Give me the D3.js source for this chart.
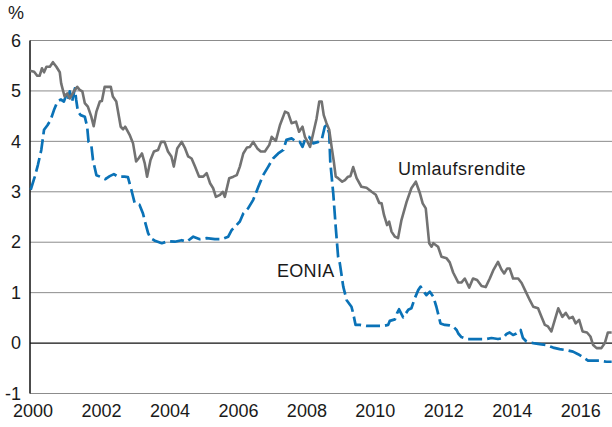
<!DOCTYPE html>
<html><head><meta charset="utf-8">
<script src="https://cdn.jsdelivr.net/npm/d3@7"></script>
<style>
html,body{margin:0;padding:0;background:#fff;}
text{font-family:"Liberation Sans",Arial,Helvetica,sans-serif;fill:#1a1a1a;}
</style></head>
<body><svg id="c" width="612" height="427"></svg>
<script>
const yTicks = [-1, 0, 1, 2, 3, 4, 5, 6];
const xTickYears = [2000, 2002, 2004, 2006, 2008, 2010, 2012, 2014, 2016];
const unitLabel = "%";
const seriesNames = ["Umlaufsrendite", "EONIA"];

const umlYears = [2000.00,2000.12,2000.21,2000.28,2000.35,2000.41,2000.48,2000.58,2000.67,2000.77,2000.87,2000.91,2001.01,2001.09,2001.16,2001.31,2001.38,2001.45,2001.53,2001.60,2001.69,2001.79,2001.86,2001.94,2002.04,2002.10,2002.18,2002.36,2002.42,2002.52,2002.65,2002.72,2002.78,2002.91,2003.01,2003.10,2003.17,2003.27,2003.35,2003.42,2003.52,2003.62,2003.74,2003.83,2003.93,2004.03,2004.13,2004.20,2004.30,2004.43,2004.53,2004.62,2004.72,2004.82,2004.94,2005.06,2005.16,2005.26,2005.35,2005.43,2005.55,2005.63,2005.69,2005.82,2005.94,2006.04,2006.13,2006.23,2006.34,2006.42,2006.52,2006.64,2006.74,2006.86,2006.99,2007.06,2007.18,2007.30,2007.45,2007.54,2007.64,2007.77,2007.86,2007.96,2008.03,2008.13,2008.18,2008.27,2008.37,2008.45,2008.52,2008.58,2008.66,2008.74,2008.81,2008.88,2008.93,2009.00,2009.12,2009.20,2009.29,2009.36,2009.44,2009.54,2009.68,2009.83,2009.98,2010.10,2010.20,2010.27,2010.34,2010.43,2010.49,2010.56,2010.66,2010.75,2010.85,2011.00,2011.14,2011.27,2011.39,2011.47,2011.56,2011.66,2011.73,2011.78,2011.92,2012.02,2012.17,2012.26,2012.36,2012.51,2012.60,2012.70,2012.83,2012.94,2013.06,2013.19,2013.31,2013.43,2013.53,2013.67,2013.77,2013.85,2013.94,2014.01,2014.11,2014.26,2014.36,2014.48,2014.60,2014.70,2014.84,2014.94,2015.04,2015.13,2015.23,2015.33,2015.43,2015.55,2015.65,2015.75,2015.85,2015.94,2016.04,2016.14,2016.27,2016.37,2016.45,2016.55,2016.69,2016.79,2016.88,2016.99];
const umlValues = [5.40,5.38,5.30,5.30,5.45,5.37,5.48,5.48,5.57,5.48,5.37,5.15,4.89,4.95,4.85,5.02,5.08,5.02,4.99,4.76,4.69,4.49,4.30,4.59,4.79,4.80,5.08,5.08,4.89,4.79,4.29,4.24,4.29,4.13,3.96,3.60,3.66,3.76,3.57,3.30,3.63,3.80,3.83,3.99,3.99,3.80,3.70,3.50,3.86,3.99,3.86,3.70,3.66,3.50,3.30,3.30,3.37,3.17,3.07,2.90,2.94,3.00,2.90,3.27,3.30,3.33,3.50,3.76,3.88,3.89,3.99,3.86,3.80,3.80,3.93,4.09,4.01,4.32,4.59,4.56,4.36,4.39,4.19,4.29,4.09,3.96,3.89,4.15,4.45,4.79,4.79,4.52,4.36,4.23,3.89,3.57,3.30,3.27,3.20,3.23,3.30,3.31,3.49,3.27,3.10,3.08,3.00,2.94,2.78,2.77,2.54,2.34,2.41,2.21,2.11,2.08,2.44,2.80,3.07,3.20,2.97,2.77,2.67,1.98,1.91,1.98,1.91,1.71,1.68,1.60,1.40,1.20,1.20,1.28,1.10,1.28,1.25,1.13,1.11,1.28,1.44,1.61,1.46,1.38,1.48,1.48,1.28,1.28,1.19,1.02,0.85,0.72,0.69,0.52,0.36,0.33,0.23,0.46,0.69,0.52,0.60,0.49,0.52,0.39,0.46,0.23,0.21,0.13,-0.04,-0.10,-0.10,0.00,0.21,0.21];

const eoniaYears = [2000.02,2000.14,2000.23,2000.33,2000.41,2000.51,2000.60,2000.70,2000.80,2000.90,2000.99,2001.06,2001.11,2001.16,2001.23,2001.31,2001.35,2001.40,2001.48,2001.60,2001.67,2001.71,2001.79,2001.84,2001.94,2002.08,2002.20,2002.33,2002.45,2002.57,2002.76,2002.86,2002.96,2003.06,2003.20,2003.30,2003.37,2003.45,2003.52,2003.65,2003.85,2004.04,2004.23,2004.43,2004.58,2004.77,2004.96,2005.16,2005.40,2005.60,2005.79,2005.89,2005.99,2006.13,2006.23,2006.37,2006.52,2006.67,2006.81,2006.96,2007.10,2007.25,2007.40,2007.49,2007.64,2007.79,2007.88,2007.96,2008.03,2008.15,2008.27,2008.42,2008.52,2008.61,2008.66,2008.74,2008.77,2008.86,2008.93,2009.00,2009.05,2009.15,2009.25,2009.39,2009.44,2009.51,2009.64,2009.83,2010.07,2010.32,2010.46,2010.51,2010.66,2010.72,2010.78,2010.90,2011.05,2011.14,2011.24,2011.34,2011.41,2011.48,2011.58,2011.68,2011.78,2011.87,2011.99,2012.12,2012.26,2012.36,2012.46,2012.51,2012.60,2012.75,2012.94,2013.14,2013.33,2013.48,2013.67,2013.82,2013.92,2014.01,2014.11,2014.21,2014.33,2014.40,2014.50,2014.70,2014.89,2015.09,2015.28,2015.47,2015.67,2015.86,2016.01,2016.15,2016.30,2016.45,2016.64,2016.84,2016.99];
const eoniaValues = [3.04,3.30,3.53,3.83,4.23,4.32,4.42,4.62,4.79,4.83,4.79,4.92,4.82,4.99,4.79,5.05,4.82,4.59,4.52,4.49,4.29,3.99,3.93,3.63,3.33,3.29,3.25,3.31,3.35,3.30,3.30,3.29,3.04,2.77,2.74,2.57,2.38,2.18,2.08,2.03,1.98,2.02,2.01,2.04,2.01,2.11,2.06,2.08,2.06,2.06,2.11,2.24,2.31,2.41,2.57,2.67,2.84,3.10,3.33,3.50,3.66,3.76,3.83,4.03,4.06,3.99,3.99,3.89,4.03,4.09,3.96,3.99,4.03,4.29,4.32,4.16,3.60,2.95,2.30,1.71,1.58,1.12,0.85,0.72,0.59,0.36,0.36,0.34,0.34,0.34,0.36,0.44,0.47,0.59,0.67,0.51,0.66,0.69,0.89,1.05,1.12,1.04,0.95,1.02,0.92,0.72,0.39,0.36,0.35,0.33,0.26,0.19,0.12,0.08,0.08,0.08,0.08,0.10,0.08,0.10,0.18,0.21,0.16,0.19,0.26,0.10,0.03,0.00,-0.02,-0.04,-0.09,-0.12,-0.14,-0.17,-0.22,-0.28,-0.35,-0.35,-0.35,-0.37,-0.37];

const svg = d3.select("#c");
const x = d3.scaleLinear().domain([2000, 2017]).range([30, 612]);
const y = d3.scaleLinear().domain([-1, 6]).range([393.5, 40.5]);

// gridlines
svg.append("g").selectAll("line").data(yTicks).join("line")
  .attr("x1", 30).attr("x2", 612)
  .attr("y1", d => y(d)).attr("y2", d => y(d))
  .attr("stroke", d => d === 0 ? "#111" : "#8c8c8c")
  .attr("stroke-width", d => d === 0 ? 1.2 : 1);

// y axis labels
const yAxis = d3.axisLeft(y).tickValues(yTicks).tickSize(0).tickPadding(9).tickFormat(d => String(d));
const ga = svg.append("g").attr("transform", "translate(30,0)").call(yAxis);
ga.select(".domain").remove();
ga.selectAll("text").attr("font-size", 18).attr("font-family", '"Liberation Sans",Arial,sans-serif').attr("fill", "#1a1a1a");

// x axis labels
const xAxis = d3.axisBottom(x).tickValues(xTickYears).tickSize(0).tickPadding(0).tickFormat(d => String(d));
const gx = svg.append("g").attr("transform", "translate(2.5,404)").call(xAxis);
gx.select(".domain").remove();
gx.selectAll("text").attr("font-size", 18).attr("font-family", '"Liberation Sans",Arial,sans-serif').attr("fill", "#1a1a1a");

// left axis line
svg.append("line").attr("x1", 30).attr("x2", 30).attr("y1", y(6)).attr("y2", y(-1))
  .attr("stroke", "#111").attr("stroke-width", 1.5);

svg.append("text").attr("x", 8).attr("y", 19).attr("font-size", 18).text(unitLabel);

const line = d3.line().x(d => x(d[0])).y(d => y(d[1])).curve(d3.curveLinear);

svg.append("path").datum(eoniaYears.map((t, i) => [t, eoniaValues[i]]))
  .attr("d", line).attr("fill", "none").attr("stroke", "#0a72b7")
  .attr("stroke-width", 2.7).attr("stroke-dasharray", "14,5").attr("stroke-linejoin", "round");

svg.append("path").datum(umlYears.map((t, i) => [t, umlValues[i]]))
  .attr("d", line).attr("fill", "none").attr("stroke", "#727272")
  .attr("stroke-width", 2.6).attr("stroke-linejoin", "round");

svg.append("text").attr("x", 398).attr("y", 174.5).attr("font-size", 18).attr("letter-spacing", 0.5).text(seriesNames[0]);
svg.append("text").attr("x", 277).attr("y", 276.5).attr("font-size", 18).attr("letter-spacing", 0.3).text(seriesNames[1]);
</script></body></html>
